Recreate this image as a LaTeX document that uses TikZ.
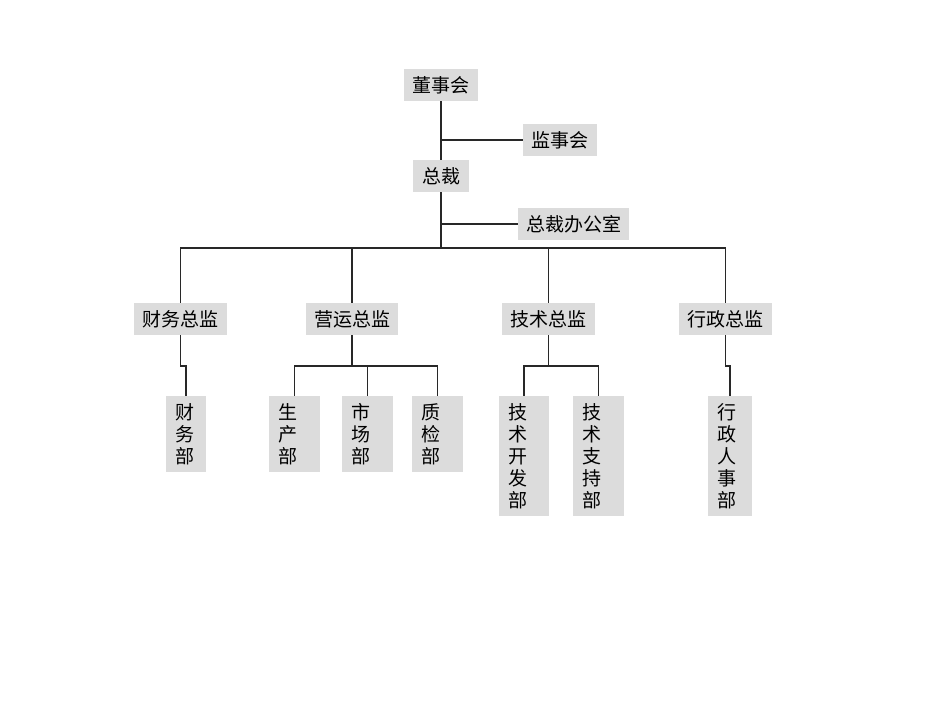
\documentclass[tikz,border=0pt]{standalone}
\usepackage{fontspec}
\newfontfamily\cjk{Noto Sans CJK SC}
\usetikzlibrary{positioning}
\definecolor{box-gray}{RGB}{220,220,220}
\definecolor{line-gray}{RGB}{40,40,40}

\tikzset{
  hbox/.style={fill=box-gray, inner sep=0pt, minimum height=32pt,
    font=\cjk\fontsize{19}{22}\selectfont},
  vbox/.style={fill=box-gray, inner xsep=9pt, inner ysep=0pt, align=left,
    font=\cjk\fontsize{19}{22}\selectfont},
  link/.style={draw=line-gray, line width=1.2pt}
}

\begin{document}
\begin{tikzpicture}[x=1pt, y=-1pt]
        \useasboundingbox (0,0) rectangle (950,713);
        % Bus and sub-bus levels
        \coordinate (bus) at (441,248);
        \coordinate (sub) at (441,366);
        % Top boxes
        \node [hbox, minimum width=74pt] (dsh) at (441,85) {董事会};
        \node [hbox, minimum width=74pt] (jsh) at (560,140) {监事会};
        \node [hbox, minimum width=56pt] (zc) at (441,176) {总裁};
        \node [hbox, minimum width=111pt] (zcb) at (573.5,224) {总裁办公室};
        % Director boxes
        \node [hbox, minimum width=93pt] (cwzj) at (180.5,319) {财务总监};
        \node [hbox, minimum width=92pt] (yyzj) at (352,319) {营运总监};
        \node [hbox, minimum width=93pt] (jszj) at (548.5,319) {技术总监};
        \node [hbox, minimum width=93pt] (xzzj) at (725.5,319) {行政总监};
        % Department boxes
        \node [vbox, text width=22pt, minimum height=76pt] (cwb) at (186,434) {财\\务\\部};
        \node [vbox, text width=33pt, minimum height=76pt] (scb) at (294.5,434) {生\\产\\部};
        \node [vbox, text width=33pt, minimum height=76pt] (scyb) at (367.5,434) {市\\场\\部};
        \node [vbox, text width=33pt, minimum height=76pt] (zjb) at (437.5,434) {质\\检\\部};
        \node [vbox, text width=32pt, minimum height=120pt] (jskf) at (524,456) {技\\术\\开\\发\\部};
        \node [vbox, text width=33pt, minimum height=120pt] (jszc) at (598.5,456) {技\\术\\支\\持\\部};
        \node [vbox, text width=26pt, minimum height=120pt] (xzrs) at (730,456) {行\\政\\人\\事\\部};
        % Trunk lines
        \draw [link] (dsh.south) -- (zc.north);
        \draw [link] (dsh.south |- jsh.west) -- (jsh.west);
        \draw [link] (zc.south) -- (bus);
        \draw [link] (zc.south |- zcb.west) -- (zcb.west);
        % Bus to directors
        \draw [link] (cwzj.north) |- (xzzj.north |- bus) -- (xzzj.north);
        \draw [link] (yyzj.north) -- (yyzj.north |- bus);
        \draw [link] (jszj.north) -- (jszj.north |- bus);
        % Finance
        \draw [link] (cwzj.south) -- (cwzj.south |- sub) -| (cwb.north);
        % Operations
        \draw [link] (yyzj.south) -- (yyzj.south |- sub);
        \draw [link] (scb.north) |- (zjb.north |- sub) -- (zjb.north);
        \draw [link] (scyb.north) -- (scyb.north |- sub);
        % Technology
        \draw [link] (jszj.south) -- (jszj.south |- sub);
        \draw [link] (jskf.north) |- (jszc.north |- sub) -- (jszc.north);
        % Administration
        \draw [link] (xzzj.south) -- (xzzj.south |- sub) -| (xzrs.north);
\end{tikzpicture}
\end{document}
